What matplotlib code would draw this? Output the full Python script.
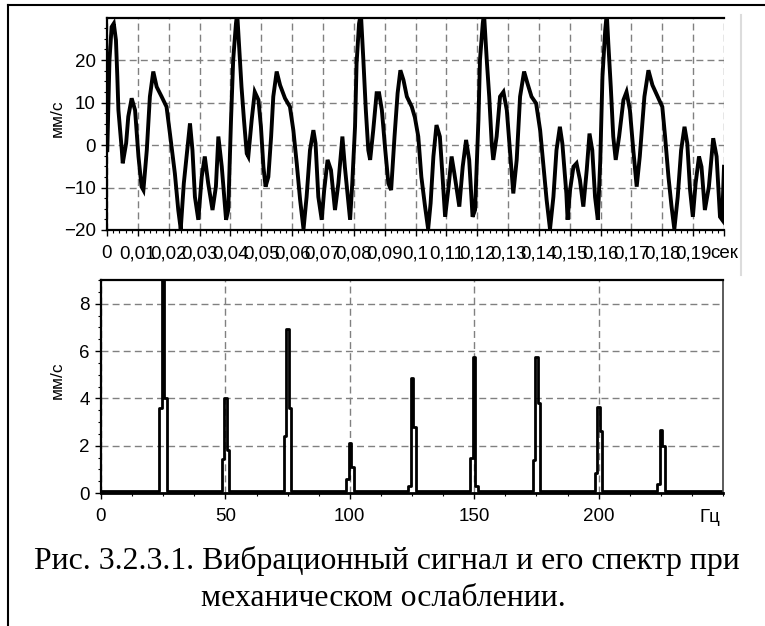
import numpy as np
import matplotlib
matplotlib.use("Agg")
import matplotlib.pyplot as plt
from matplotlib.ticker import MultipleLocator
from matplotlib.lines import Line2D

# ---------------- data ----------------
# vibration velocity waveform: time in ms, velocity in mm/s
time_ms = [0.1, 0.8, 1.5, 2.2, 2.9, 3.35, 3.7, 4.8, 5.1, 6.2, 6.9, 8.0, 9.1, 10.2, 11.2, 11.8,
           12.9, 13.9, 15.0, 16.1, 17.7, 19.3, 20.4, 22.0, 23.1, 23.9, 24.9, 26.0, 26.9, 27.7,
           28.5, 29.6, 30.7, 31.7, 32.8, 34.2, 35.3, 36.1, 37.2, 38.6, 39.3, 40.2, 40.9, 41.8,
           42.2, 42.9, 43.6, 44.4, 45.3, 45.8, 46.9, 47.9, 49.1, 49.9, 50.7, 51.4, 52.3, 53.2,
           53.9, 55.0, 56.1, 57.7, 59.3, 60.4, 61.5, 62.6, 63.7, 64.7, 65.8, 66.9, 67.6, 68.5,
           69.6, 70.4, 71.5, 72.6, 73.9, 75.0, 76.3, 77.1, 78.8, 79.5, 80.4, 80.9, 81.7, 82.3,
           83.1, 83.9, 84.7, 85.3, 86.3, 87.4, 88.2, 89.1, 90.2, 91.2, 92.1, 93.2, 94.2, 95.1,
           96.1, 97.2, 98.8, 99.8, 100.9, 101.9, 103.1, 104.1, 104.9, 105.8, 106.8, 107.9,
           108.7, 109.6, 110.6, 111.7, 112.6, 114.2, 115.3, 116.4, 117.4, 118.5, 119.3, 120.4,
           120.9, 121.8, 122.2, 123.1, 123.9, 124.7, 125.2, 126.3, 127.4, 128.5, 129.6, 130.6,
           131.7, 132.8, 133.9, 135.2, 136.3, 137.6, 139.1, 140.4, 141.4, 142.5, 143.6, 144.7,
           145.7, 146.8, 147.6, 148.9, 149.3, 150.1, 151.2, 152.2, 153.3, 154.4, 155.5, 156.4,
           157.3, 158.2, 159.1, 159.9, 160.6, 161.5, 162.0, 162.5, 163.3, 164.1, 164.9, 166.0,
           167.4, 168.4, 169.5, 170.6, 171.7, 172.7, 174.2, 175.5, 176.8, 178.5, 180.0, 180.9,
           182.0, 183.0, 183.9, 185.0, 186.1, 187.2, 188.1, 189.0, 189.9, 190.8, 191.9, 192.7,
           193.8, 195.1, 196.5, 197.6, 198.7, 199.4, 200.0]
velocity = [-1.2, 20.0, 27.8, 28.6, 24.7, 16.0, 8.2, -1.2, -4.3, 0.4, 6.7, 11.0, 8.2, -2.7, -9.8, -10.6,
            -1.2, 11.4, 17.3, 13.7, 11.4, 9.0, 2.7, -6.7, -15.3, -19.8, -9.0, -1.2, 5.1, -1.2,
            -12.2, -17.6, -7.5, -2.7, -9.0, -15.3, -9.8, 2.0, -5.1, -17.6, -15.3, 5.9, 20.0, 28.6,
            31.0, 22.4, 13.7, 5.9, -2.0, -2.7, 5.9, 12.5, 10.6, 4.3, -5.1, -9.8, -7.5, 2.0,
            11.4, 17.3, 14.1, 11.0, 9.0, 3.5, -4.3, -12.9, -19.8, -12.2, -1.2, 3.5, 0.4, -12.2,
            -17.6, -10.6, -3.5, -5.9, -15.3, -9.0, 2.0, -5.1, -17.6, -9.0, 4.3, 19.2, 28.6, 31.0,
            20.0, 8.2, -1.2, -3.5, 3.5, 12.2, 12.2, 8.2, -1.2, -9.0, -10.6, 2.0, 12.2, 17.6,
            15.3, 11.4, 9.0, 6.5, 2.0, -7.5, -14.5, -19.8, -13.7, -2.7, 4.7, 2.0,
            -6.7, -16.9, -10.6, -2.7, -6.7, -14.5, -5.1, 1.2, -3.5, -16.9, -15.3, 5.9,
            20.0, 28.6, 31.0, 20.0, 11.4, 0.4, -3.5, 2.0, 11.4, 12.5, 8.2, -1.2,
            -11.4, -3.5, 11.4, 17.3, 14.5, 11.4, 9.8, 3.5, -4.3, -12.9, -19.8, -12.2,
            -1.2, 4.3, 0.4, -11.4, -17.6, -10.6, -5.1, -4.3, -8.2, -14.5, -5.9, 2.7,
            -1.2, -12.2, -17.6, -3.5, 16.1, 27.1, 31.0, 23.9, 13.7, 2.0, -3.5, 2.0,
            10.6, 12.5, 8.2, -1.2, -9.8, -2.7, 11.4, 17.6, 14.1, 11.4, 9.0, 2.0,
            -7.5, -14.5, -19.8, -12.2, -1.2, 4.3, 0.4, -10.6, -16.9, -9.0, -2.7, -5.1,
            -15.3, -9.8, 1.6, -2.7, -16.9, -17.6, -5.1]

time_tick_labels = ["0", "0,01", "0,02", "0,03", "0,04", "0,05", "0,06", "0,07", "0,08", "0,09",
                    "0,1", "0,11", "0,12", "0,13", "0,14", "0,15", "0,16", "0,17", "0,18", "0,19",
                    "сек"]

# spectrum: harmonics of 25 Hz, peak bin and the neighbouring 1 Hz bins, mm/s
harmonic_hz = [25, 50, 75, 100, 125, 150, 175, 200, 225]
peak_mm_s = [9.6, 4.0, 6.95, 2.1, 4.88, 5.75, 5.75, 3.65, 2.65]
lower_side_mm_s = [3.6, 1.45, 2.4, 0.6, 0.3, 1.5, 1.4, 0.85, 0.4]
upper_side_mm_s = [4.0, 1.8, 3.6, 1.1, 2.8, 0.3, 3.8, 2.6, 2.0]
noise_floor_mm_s = 0.1
freq_tick_labels = ["0", "50", "100", "150", "200"]

caption_lines = ["Рис. 3.2.3.1. Вибрационный сигнал и его спектр при",
                 "механическом ослаблении."]

# ---------------- figure ----------------
W, H = 765, 626
DPI = 100
plt.rcParams["font.family"] = ["Liberation Sans", "DejaVu Sans"]
fig = plt.figure(figsize=(W / DPI, H / DPI), dpi=DPI)
fig.patch.set_facecolor("white")


def px_axes(left, top, right, bottom):
    return fig.add_axes([left / W, 1 - bottom / H, (right - left) / W, (bottom - top) / H])


grid_kw = dict(color="#808080", linestyle=(0, (5, 3)), linewidth=1.0)
tick_fs = 13.5


def style_axes(ax):
    for s in ("left", "bottom", "top"):
        ax.spines[s].set_linewidth(1.6)
        ax.spines[s].set_color("black")
    ax.tick_params(which="major", direction="out", length=4, width=1.0, colors="black",
                   labelsize=tick_fs)
    ax.tick_params(which="minor", direction="out", length=2.2, width=0.8, colors="black")
    ax.tick_params(axis="y", pad=4)
    ax.tick_params(axis="x", pad=7)
    ax.set_axisbelow(True)
    ax.grid(True, which="major", **grid_kw)


# ---- time waveform ----
ax1 = px_axes(107, 18, 724, 230)
t_s = np.array(time_ms) / 1000.0
ax1.plot(t_s, velocity, color="black", linewidth=2.8, solid_joinstyle="miter", clip_on=True)
ax1.set_xlim(0, 0.2)
ax1.set_ylim(-20, 29.9)
ax1.set_xticks(np.round(np.arange(0, 0.2001, 0.01), 2))
ax1.set_xticklabels(time_tick_labels)
ax1.set_yticks([-20, -10, 0, 10, 20])
ax1.xaxis.set_minor_locator(MultipleLocator(0.002))
ax1.yaxis.set_minor_locator(MultipleLocator(2.5))
style_axes(ax1)
ax1.spines["right"].set_visible(False)

# ---- spectrum ----
ax2 = px_axes(101, 280, 723, 493)
freq = np.arange(0, 251, 1.0)
amp = np.full_like(freq, noise_floor_mm_s)
for f, lo, pk, hi in zip(harmonic_hz, lower_side_mm_s, peak_mm_s, upper_side_mm_s):
    amp[freq == f - 1] = lo
    amp[freq == f] = pk
    amp[freq == f + 1] = hi
ax2.step(freq, amp, where="mid", color="black", linewidth=2.0)
ax2.set_xlim(0, 250)
ax2.set_ylim(0, 9)
ax2.set_xticks([0, 50, 100, 150, 200])
ax2.set_xticklabels(freq_tick_labels)
ax2.set_yticks([0, 2, 4, 6, 8])
ax2.xaxis.set_minor_locator(MultipleLocator(12.5))
ax2.yaxis.set_minor_locator(MultipleLocator(0.5))
style_axes(ax2)
ax2.spines["bottom"].set_linewidth(2.0)
ax2.spines["right"].set_color("#404040")
ax2.spines["right"].set_linewidth(1.2)
ax2.text(710, H - 518, "Гц", transform=None, ha="center", va="center", fontsize=tick_fs)

# axis titles
fig.text(57 / W, 1 - 118 / H, "мм/с", rotation=90, ha="center", va="center", fontsize=12.5)
fig.text(57 / W, 1 - 380 / H, "мм/с", rotation=90, ha="center", va="center", fontsize=12.5)

# caption
fig.text(387 / W, 1 - 561 / H, caption_lines[0], ha="center", va="center",
         fontsize=22.9, family=["Liberation Serif", "DejaVu Serif"])
fig.text(383 / W, 1 - 599 / H, caption_lines[1], ha="center", va="center",
         fontsize=22.9, family=["Liberation Serif", "DejaVu Serif"])

# outer frame (top and left edges) and window edge
fig.add_artist(Line2D([8 / W, 8 / W], [0, 1 - 5 / H], color="black", linewidth=1.5,
                      transform=fig.transFigure))
fig.add_artist(Line2D([8 / W, 1], [1 - 5 / H, 1 - 5 / H], color="black", linewidth=1.5,
                      transform=fig.transFigure))
fig.add_artist(Line2D([741 / W, 741 / W], [1 - 15 / H, 1 - 275 / H], color="#dcdcdc",
                      linewidth=1.5, transform=fig.transFigure))

fig.savefig("out.png", dpi=DPI, facecolor="white")
